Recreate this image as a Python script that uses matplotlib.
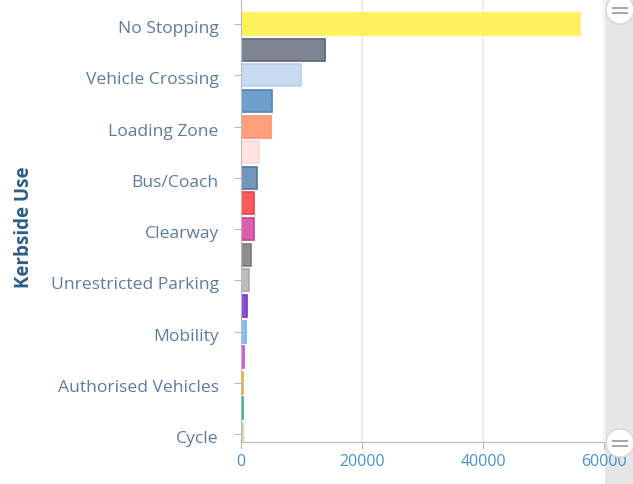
import matplotlib.pyplot as plt
import matplotlib.transforms as mtransforms
from matplotlib.patches import Rectangle, Circle
from matplotlib.lines import Line2D

# kerbside use categories, top to bottom (only every other one is labelled on the axis)
categories = ['No Stopping', 'No Parking', 'Vehicle Crossing', 'Timed Parking',
              'Loading Zone', 'Taxi Zone', 'Bus/Coach', 'Permit Parking',
              'Clearway', 'Ticket Parking', 'Unrestricted Parking', 'Disabled',
              'Mobility', 'Motorcycle', 'Authorised Vehicles', 'Car Share', 'Cycle']
counts = [56000, 13900, 9900, 5200, 4900, 3000, 2700, 2200,
          2150, 1650, 1300, 1000, 780, 420, 400, 380, 250]
fills = ['#fff15c', '#7d8593', '#c8dbee', '#6f9fcc', '#ffa07c', '#fde4e2',
         '#7297bb', '#ff5a5e', '#db5fae', '#8e8e8e', '#bdbdbd', '#8c4fd6',
         '#86c4ef', '#d06cd6', '#f3be4a', '#3fc1a6', '#c7eab9']
edges = ['#fff15c', '#5e6676', '#b9d0e8', '#4f86bd', '#ff9470', '#fbdad8',
         '#4c77a2', '#f04048', '#c8409a', '#7a7a7a', '#a8a8a8', '#7a3ac8',
         '#70b6e8', '#c058c8', '#eab030', '#2fb096', '#b8e0a8']

plt.rcParams['font.family'] = ['Open Sans', 'DejaVu Sans']

fig = plt.figure(figsize=(6.33, 4.84), dpi=100)
ax = fig.add_axes([241 / 633, 42 / 484, 363 / 633, 442 / 484])

ypos = list(range(len(categories)))
ax.barh(ypos, counts, height=0.86, color=fills, edgecolor=edges, linewidth=1.2, zorder=2)

ax.set_xlim(0, 60000)
ax.set_ylim(16.31, -0.94)
ax.set_xticks([0, 20000, 40000, 60000])
ax.set_xticklabels(['0', '20000', '40000', '60000'])
ax.set_yticks(ypos[::2])
ax.set_yticklabels(categories[::2])
ax.grid(axis='x', color='#ebebeb', linewidth=1.2, zorder=0)
ax.tick_params(axis='y', length=5, color='#bbbbbb', labelsize=12.6, labelcolor='#5f7d9a', pad=11)
ax.tick_params(axis='x', length=5, color='#bbbbbb', labelsize=11.5, labelcolor='#4a90c8', pad=4)
# nudge category labels down a little
shift = mtransforms.ScaledTranslation(0, -3 / 100, fig.dpi_scale_trans)
for lbl in ax.get_yticklabels():
    lbl.set_transform(lbl.get_transform() + shift)
for s in ['top', 'right']:
    ax.spines[s].set_visible(False)
for s in ['left', 'bottom']:
    ax.spines[s].set_color('#bbbbbb')
ax.set_ylabel('Kerbside Use', fontsize=13.5, fontweight='bold', color='#2d5d86')
ax.yaxis.set_label_coords(-0.57, 0.486)

# scrollbar on the right, drawn beneath the axes
fig.patches.append(Rectangle((605 / 633, 0), 28 / 633, 1, transform=fig.transFigure,
                             facecolor='#e6e6e6', edgecolor='none', zorder=-1))
for cy in [10, 443]:
    fig.patches.append(Circle((620, 484 - cy), 14, transform=None, facecolor='white',
                              edgecolor='#d8d8d8', linewidth=1, zorder=3))
    for dy in (-2.5, 2.5):
        fig.lines.append(Line2D([613, 627], [484 - cy + dy] * 2, transform=None,
                                color='#aaaaaa', linewidth=1.5, zorder=4))

fig.savefig('out.png', dpi=100)
